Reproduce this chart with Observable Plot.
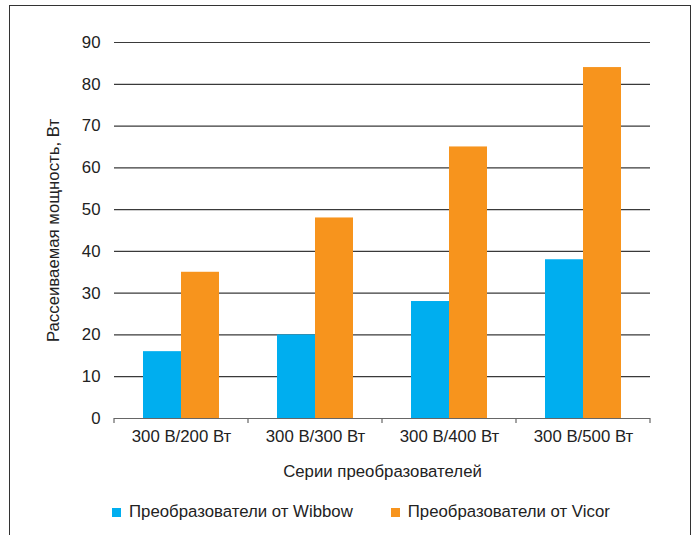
<!DOCTYPE html>
<html>
<head>
<meta charset="utf-8">
<script src="https://cdn.jsdelivr.net/npm/d3@7"></script>
<script src="https://cdn.jsdelivr.net/npm/@observablehq/plot@0.6"></script>
<style>
  html, body { margin: 0; padding: 0; background: #fff; }
  #wrap { position: relative; width: 695px; height: 535px; overflow: hidden; font-family: "Liberation Sans", Arial, sans-serif; }
  #frame { position: absolute; left: 9px; top: 5px; width: 682px; height: 560px; border: 1.5px solid #333; box-sizing: border-box; }
  #chart { position: absolute; left: 0; top: 0; }
  #legend { position: absolute; left: 112px; top: 502px; display: flex; gap: 38px; font-size: 16.8px; color: #222; line-height: 20px; }
  .item { display: flex; align-items: center; }
  .sw { width: 9px; height: 9px; margin-right: 8px; }
</style>
</head>
<body>
<div id="wrap">
  <div id="frame"></div>
  <div id="chart"></div>
  <div id="legend"></div>
</div>
<script>
const categories = ["300 В/200 Вт", "300 В/300 Вт", "300 В/400 Вт", "300 В/500 Вт"];
const seriesNames = ["Преобразователи от Wibbow", "Преобразователи от Vicor"];
const wibbow = [16, 20, 28, 38];
const vicor = [35, 48, 65, 84];
const colors = ["#00AEEF", "#F7941D"];
const yTicks = [0, 10, 20, 30, 40, 50, 60, 70, 80, 90];

const data = [];
categories.forEach((c, i) => {
  data.push({cat: c, series: seriesNames[0], value: wibbow[i]});
  data.push({cat: c, series: seriesNames[1], value: vicor[i]});
});

const plot = Plot.plot({
  width: 695,
  height: 490,
  marginLeft: 112,
  marginRight: 44,
  marginTop: 42,
  marginBottom: 72,
  style: {fontFamily: "'Liberation Sans', Arial, sans-serif", fontSize: "16.8px", color: "#222", background: "transparent"},
  fx: {domain: categories, paddingInner: 0, paddingOuter: 0},
  x: {domain: seriesNames, paddingInner: 0, paddingOuter: 0.75, axis: null},
  y: {domain: [0, 90]},
  color: {domain: seriesNames, range: colors},
  marks: [
    Plot.gridY(yTicks.filter(d => d > 0), {stroke: "#3a3a3a", strokeOpacity: 1, strokeWidth: 1.2}),
    Plot.barY(data, {fx: "cat", x: "series", y: "value", fill: "series", insetLeft: 0, insetRight: 0}),
    Plot.ruleY([0], {stroke: "#666", strokeWidth: 1.2}),
    Plot.axisY({ticks: yTicks, tickSize: 0, tickPadding: 14, fontSize: 16.8, label: "Рассеиваемая мощность, Вт", labelAnchor: "center", labelArrow: "none", labelOffset: 67}),
    Plot.axisFx({anchor: "bottom", tickSize: 0, tickPadding: 12, fontSize: 16.8, label: "Серии преобразователей", labelAnchor: "center", labelArrow: "none", labelOffset: 58})
  ]
});

// boundary ticks on the category axis, taken from the fx band scale
const fx = plot.scale("fx");
const yScale = plot.scale("y");
const y0 = yScale.apply(0);
const edges = categories.map(c => fx.apply(c));
edges.push(fx.apply(categories[categories.length - 1]) + fx.bandwidth);
d3.select(plot).append("g")
  .selectAll("line").data(edges).join("line")
  .attr("x1", d => d).attr("x2", d => d)
  .attr("y1", y0).attr("y2", y0 + 5)
  .attr("stroke", "#666").attr("stroke-width", 1.2);

document.getElementById("chart").appendChild(plot);

const legend = d3.select("#legend");
seriesNames.forEach((s, i) => {
  const it = legend.append("div").attr("class", "item");
  it.append("div").attr("class", "sw").style("background", colors[i]);
  it.append("span").text(s);
});
</script>
</body>
</html>
